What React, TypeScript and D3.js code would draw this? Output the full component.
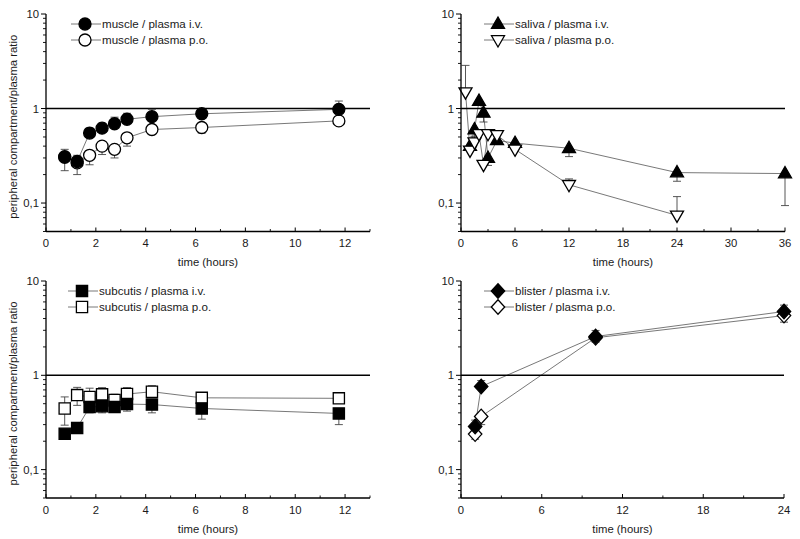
import React from "react";
import * as d3 from "d3";

// ---------- data ----------
const muscleTime = [0.75, 1.25, 1.75, 2.25, 2.75, 3.25, 4.25, 6.25, 11.75];
const muscleIV = [0.305, 0.275, 0.55, 0.62, 0.69, 0.77, 0.82, 0.88, 0.98];
const muscleIVUpper = [0.37, 0.32, 0.62, 0.7, 0.81, 0.89, 0.98, 0.95, 1.2];
const musclePO = [0.31, 0.266, 0.32, 0.4, 0.37, 0.49, 0.6, 0.63, 0.74];
const musclePOLower = [0.22, 0.2, 0.254, 0.326, 0.3, 0.4, 0.53, 0.55, 0.68];

const salivaIVTime = [1, 1.5, 2, 2.5, 3, 4, 6, 12, 24, 36];
const salivaIV = [0.4, 0.6, 1.2, 0.9, 0.3, 0.46, 0.43, 0.38, 0.21, 0.205];
const salivaIVLower = [0.37, 0.5, 1.1, 0.72, 0.25, 0.42, 0.4, 0.31, 0.17, 0.094];
const salivaPOTime = [0.5, 1, 1.5, 2, 2.5, 3, 4, 6, 12, 24];
const salivaPO = [1.49, 0.36, 0.44, 0.54, 0.255, 0.54, 0.525, 0.37, 0.156, 0.074];
const salivaPOUpper = [2.86, 0.39, 0.51, 0.58, 0.28, 0.58, 0.58, 0.4, 0.18, 0.117];

const subcutisTime = [0.75, 1.25, 1.75, 2.25, 2.75, 3.25, 4.25, 6.25, 11.75];
const subcutisIV = [0.24, 0.277, 0.46, 0.47, 0.46, 0.495, 0.49, 0.445, 0.394];
const subcutisIVLower = [0.22, 0.25, 0.4, 0.4, 0.417, 0.417, 0.4, 0.343, 0.3];
const subcutisPO = [0.445, 0.617, 0.59, 0.628, 0.547, 0.633, 0.67, 0.577, 0.57];
const subcutisPOUpper = [0.59, 0.745, 0.73, 0.74, 0.63, 0.74, 0.775, 0.64, 0.64];
const subcutisPOLower = [0.296, 0.48, 0.59, 0.628, 0.547, 0.633, 0.67, 0.577, 0.57];

const blisterTime = [1.05, 1.5, 10, 24];
const blisterIV = [0.287, 0.76, 2.58, 4.75];
const blisterIVUpper = [0.335, 0.88, 2.99, 5.55];
const blisterPO = [0.238, 0.366, 2.5, 4.3];
const blisterPOLower = [0.21, 0.3, 2.25, 3.66];

const yTickValues = [0.1, 1, 10];
const yTickLabels = ["0,1", "1", "10"];
const xAxisTitle = "time (hours)";
const yAxisTitle = "peripheral compartment/plasma ratio";

// ---------- styles ----------
const FONT = "'Liberation Sans', Arial, Helvetica, sans-serif";
const FS = 11.3;
const LEGEND_FS = 11.6;

type Shape = "circle" | "triangleUp" | "triangleDown" | "square" | "diamond";
type Series = {
  label: string;
  t: number[];
  v: number[];
  bounds: number[][];
  shape: Shape;
  filled: boolean;
};

function markerPath(shape: Shape): string {
  switch (shape) {
    case "circle": {
      const p = d3.path();
      p.arc(0, 0, 6, 0, Math.PI * 2);
      return p.toString();
    }
    case "triangleUp": {
      const s = 13, h = (s * Math.sqrt(3)) / 2;
      return `M0,${-h * 0.62}L${s / 2},${h * 0.38}L${-s / 2},${h * 0.38}Z`;
    }
    case "triangleDown": {
      const s = 13, h = (s * Math.sqrt(3)) / 2;
      return `M0,${h * 0.62}L${s / 2},${-h * 0.38}L${-s / 2},${-h * 0.38}Z`;
    }
    case "square":
      return "M-5.6,-5.6H5.6V5.6H-5.6Z";
    case "diamond":
      return "M0,-7.3L6.7,0L0,7.3L-6.7,0Z";
  }
}

type PanelProps = {
  xDomain: [number, number];
  xRange: [number, number];
  yRange: [number, number];
  majorStep: number;
  minorStep: number;
  drawOrder: Series[];
  legend: Series[];
  legendX: number;
  legendY: number;
  showYTitle: boolean;
};

function Panel(p: PanelProps) {
  const x = d3.scaleLinear().domain(p.xDomain).range(p.xRange);
  const y = d3.scaleLog().domain([0.05, 10]).range(p.yRange);
  const [x0, x1] = p.xRange;
  const [yb, yt] = p.yRange;
  const majors = d3.range(p.xDomain[0], p.xDomain[1] + 1e-9, p.majorStep);
  const minors = d3
    .range(p.xDomain[0], p.xDomain[1] + 1e-9, p.minorStep)
    .filter((v) => majors.every((m) => Math.abs(m - v) > 1e-9));
  const yMinor: number[] = [];
  [0.01, 0.1, 1].forEach((d) => {
    for (let k = 2; k <= 9; k++) {
      const v = d * k;
      if (v >= 0.05 && v < 10) yMinor.push(v);
    }
  });
  const line = d3
    .line<[number, number]>()
    .x((d) => x(d[0]))
    .y((d) => y(d[1]));

  return (
    <g fontFamily={FONT} fontSize={FS} fill="#1a1a1a">
      {p.drawOrder.map((s, i) => (
        <path
          key={"l" + i}
          d={line(s.t.map((t, j) => [t, s.v[j]] as [number, number])) || ""}
          fill="none"
          stroke="#555"
          strokeWidth={0.8}
        />
      ))}
      <line x1={x0} x2={x1} y1={y(1)} y2={y(1)} stroke="#000" strokeWidth={1.6} />
      {p.drawOrder.map((s, i) =>
        s.bounds.map((b, bi) =>
          s.t.map((t, j) =>
            Math.abs(b[j] - s.v[j]) < 1e-9 ? null : (
              <g key={`e${i}-${bi}-${j}`} stroke="#444" strokeWidth={0.9}>
                <line x1={x(t)} x2={x(t)} y1={y(s.v[j])} y2={y(b[j])} />
                <line x1={x(t) - 4} x2={x(t) + 4} y1={y(b[j])} y2={y(b[j])} />
              </g>
            )
          )
        )
      )}
      {p.drawOrder.map((s, i) =>
        s.t.map((t, j) => (
          <path
            key={`m${i}-${j}`}
            d={markerPath(s.shape)}
            transform={`translate(${x(t)},${y(s.v[j])})`}
            fill={s.filled ? "#000" : "#fff"}
            stroke="#000"
            strokeWidth={1.3}
          />
        ))
      )}
      <line x1={x0} x2={x0} y1={yt} y2={yb} stroke="#000" strokeWidth={1.3} />
      <line x1={x0} x2={x1} y1={yb} y2={yb} stroke="#000" strokeWidth={1.3} />
      {yTickValues.map((v, i) => (
        <g key={"yt" + i}>
          <line x1={x0 - 5} x2={x0} y1={y(v)} y2={y(v)} stroke="#000" strokeWidth={1} />
          <text x={x0 - 7} y={y(v)} dy="0.36em" textAnchor="end">
            {yTickLabels[i]}
          </text>
        </g>
      ))}
      {yMinor.map((v, i) => (
        <line key={"ym" + i} x1={x0 - 3} x2={x0} y1={y(v)} y2={y(v)} stroke="#000" strokeWidth={0.9} />
      ))}
      {majors.map((v, i) => (
        <g key={"xt" + i}>
          <line x1={x(v)} x2={x(v)} y1={yb} y2={yb - 4} stroke="#000" strokeWidth={1} />
          <text x={x(v)} y={yb + 15.5} textAnchor="middle">
            {String(v)}
          </text>
        </g>
      ))}
      {minors.map((v, i) => (
        <line key={"xm" + i} x1={x(v)} x2={x(v)} y1={yb} y2={yb - 2.5} stroke="#000" strokeWidth={0.9} />
      ))}
      <text x={(x0 + x1) / 2} y={yb + 34.5} textAnchor="middle">
        {xAxisTitle}
      </text>
      {p.showYTitle && (
        <text
          transform={`translate(17,${(yt + yb) / 2 + 4}) rotate(-90)`}
          textAnchor="middle"
        >
          {yAxisTitle}
        </text>
      )}
      {p.legend.map((s, i) => {
        const ly = p.legendY + i * 16;
        return (
          <g key={"lg" + i}>
            <line x1={p.legendX} x2={p.legendX + 30} y1={ly} y2={ly} stroke="#555" strokeWidth={0.8} />
            <path
              d={markerPath(s.shape)}
              transform={`translate(${p.legendX + 14},${ly})`}
              fill={s.filled ? "#000" : "#fff"}
              stroke="#000"
              strokeWidth={1.3}
            />
            <text x={p.legendX + 31} y={ly} dy="0.36em" fontSize={LEGEND_FS}>
              {s.label}
            </text>
          </g>
        );
      })}
    </g>
  );
}

export default function App() {
  const mIV: Series = { label: "muscle / plasma i.v.", t: muscleTime, v: muscleIV, bounds: [muscleIVUpper], shape: "circle", filled: true };
  const mPO: Series = { label: "muscle / plasma p.o.", t: muscleTime, v: musclePO, bounds: [musclePOLower], shape: "circle", filled: false };
  const sIV: Series = { label: "saliva / plasma i.v.", t: salivaIVTime, v: salivaIV, bounds: [salivaIVLower], shape: "triangleUp", filled: true };
  const sPO: Series = { label: "saliva / plasma p.o.", t: salivaPOTime, v: salivaPO, bounds: [salivaPOUpper], shape: "triangleDown", filled: false };
  const cIV: Series = { label: "subcutis / plasma i.v.", t: subcutisTime, v: subcutisIV, bounds: [subcutisIVLower], shape: "square", filled: true };
  const cPO: Series = { label: "subcutis / plasma p.o.", t: subcutisTime, v: subcutisPO, bounds: [subcutisPOUpper, subcutisPOLower], shape: "square", filled: false };
  const bIV: Series = { label: "blister / plasma i.v.", t: blisterTime, v: blisterIV, bounds: [blisterIVUpper], shape: "diamond", filled: true };
  const bPO: Series = { label: "blister / plasma p.o.", t: blisterTime, v: blisterPO, bounds: [blisterPOLower], shape: "diamond", filled: false };

  return (
    <div style={{ position: "absolute", left: 0, top: 0 }}>
      <svg width={800} height={539} style={{ display: "block", background: "#fff" }}>
        <Panel xDomain={[0, 13]} xRange={[46, 370]} yRange={[231.5, 14]} majorStep={2} minorStep={1}
          drawOrder={[mPO, mIV]} legend={[mIV, mPO]} legendX={71} legendY={24} showYTitle />
        <Panel xDomain={[0, 36]} xRange={[461, 785]} yRange={[231.5, 14]} majorStep={6} minorStep={3}
          drawOrder={[sIV, sPO]} legend={[sIV, sPO]} legendX={484} legendY={24} showYTitle={false} />
        <Panel xDomain={[0, 13]} xRange={[46, 370]} yRange={[498, 281]} majorStep={2} minorStep={1}
          drawOrder={[cPO, cIV]} legend={[cIV, cPO]} legendX={68} legendY={291} showYTitle />
        <Panel xDomain={[0, 24]} xRange={[461, 784]} yRange={[498, 281]} majorStep={6} minorStep={3}
          drawOrder={[bPO, bIV]} legend={[bIV, bPO]} legendX={484} legendY={291} showYTitle={false} />
      </svg>
    </div>
  );
}
